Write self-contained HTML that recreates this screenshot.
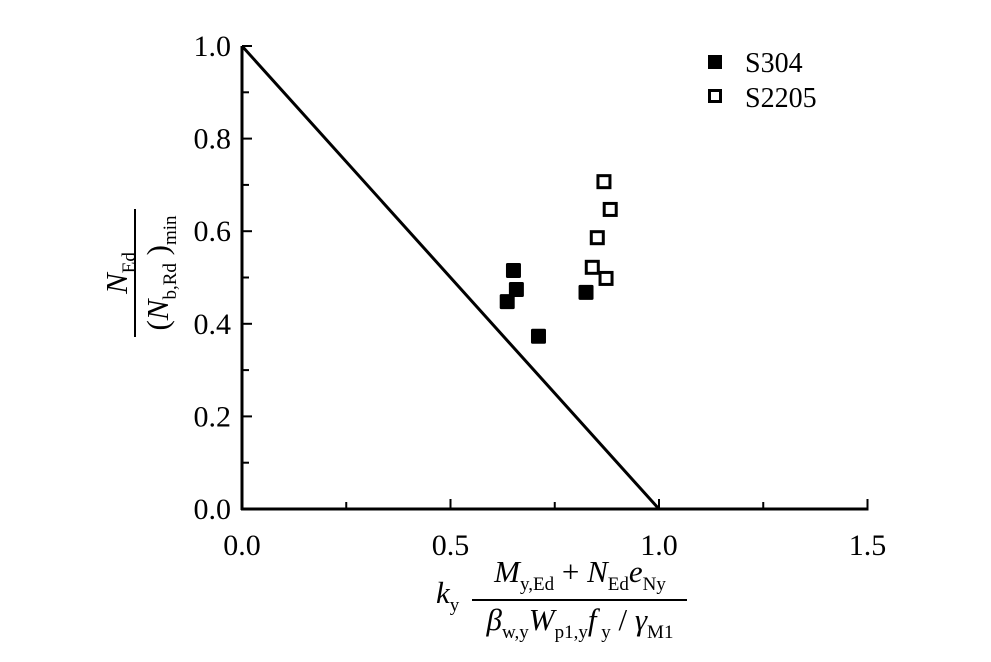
<!DOCTYPE html>
<html><head><meta charset="utf-8"><style>
body{margin:0;background:#fff}
svg{display:block;font-family:"Liberation Serif",serif}
</style></head><body>
<svg id="chart" width="991" height="662" viewBox="0 0 991 662">
<g id="axes"></g>
<g id="marks"></g>
<g>
<rect x="708" y="55" width="14" height="14" fill="#000"/>
<text x="745" y="72" font-size="28">S304</text>
<rect x="709.5" y="90.5" width="11" height="11" fill="#fff" stroke="#000" stroke-width="3"/>
<text x="745" y="107" font-size="28">S2205</text>
</g>
<g transform="translate(135,273) rotate(-90)" font-size="31">
<text x="0" y="-8" text-anchor="middle"><tspan font-style="italic">N</tspan><tspan font-size="19" dy="8">Ed</tspan></text>
<line x1="-64" y1="0" x2="64" y2="0" stroke="#000" stroke-width="2"/>
<text x="0" y="33" text-anchor="middle">(<tspan font-style="italic">N</tspan><tspan font-size="19" dy="8">b,Rd</tspan><tspan dy="-8"> )</tspan><tspan font-size="19" dy="8">min</tspan></text>
</g>
<g font-size="31">
<text x="436" y="603" font-style="italic">k<tspan font-size="19" font-style="normal" dy="8">y</tspan></text>
<text x="580" y="582" text-anchor="middle"><tspan font-style="italic">M</tspan><tspan font-size="19" dy="8">y,Ed</tspan><tspan dy="-8"> + </tspan><tspan font-style="italic">N</tspan><tspan font-size="19" dy="8">Ed</tspan><tspan font-style="italic" dy="-8">e</tspan><tspan font-size="19" dy="8">Ny</tspan></text>
<line x1="472" y1="600" x2="687" y2="600" stroke="#000" stroke-width="2"/>
<text x="580" y="630" text-anchor="middle"><tspan font-style="italic">β</tspan><tspan font-size="19" dy="8">w,y</tspan><tspan font-style="italic" dy="-8">W</tspan><tspan font-size="19" dy="8">p1,y</tspan><tspan font-style="italic" dy="-8">f</tspan><tspan font-size="19" dy="8"> y</tspan><tspan dy="-8"> / </tspan><tspan font-style="italic">γ</tspan><tspan font-size="19" dy="8">M1</tspan></text>
</g>
</svg>
<script>
const s304X=[0.636,0.651,0.658,0.711,0.825];
const s304Y=[0.448,0.515,0.474,0.373,0.468];
const s2205X=[0.840,0.852,0.868,0.883,0.873];
const s2205Y=[0.522,0.586,0.707,0.647,0.498];
const xTicks=[0,0.5,1.0,1.5];
const xTickLabels=["0.0","0.5","1.0","1.5"];
const yTicks=[0,0.2,0.4,0.6,0.8,1.0];
const yTickLabels=["0.0","0.2","0.4","0.6","0.8","1.0"];
const limitX=[0,1];
const limitY=[1,0];
const NS="http://www.w3.org/2000/svg";
const X0=242,XS=(659-242),Y0=509,YS=(509-46);
function sx(v){return X0+v*XS;}
function sy(v){return Y0-v*YS;}
function mk(tag,attrs,parent){const e=document.createElementNS(NS,tag);for(const k in attrs)e.setAttribute(k,attrs[k]);parent.appendChild(e);return e;}
const axes=document.getElementById('axes'),marks=document.getElementById('marks');
let e=mk('line',{x1:sx(0),y1:sy(0)+1,x2:sx(0),y2:sy(1),stroke:'#000','stroke-width':3},axes);


e=mk('line',{x1:sx(0)-1,y1:sy(0),x2:sx(1.5)+1,y2:sy(0),stroke:'#000','stroke-width':3},axes);


for(let i=0;i<=6;i++){const v=i*0.25;const major=i%2==0;
e=mk('line',{x1:sx(v),y1:sy(0),x2:sx(v),y2:sy(0)-(major?10:7),stroke:'#000','stroke-width':2},axes);

}
for(let i=0;i<=10;i++){const v=i*0.1;const major=i%2==0;
e=mk('line',{x1:sx(0),y1:sy(v),x2:sx(0)+(major?10:7),y2:sy(v),stroke:'#000','stroke-width':2},axes);

}
xTicks.forEach((v,i)=>{e=mk('text',{x:sx(v),y:555,'font-size':30,'text-anchor':'middle'},axes);e.textContent=xTickLabels[i];

});
yTicks.forEach((v,i)=>{e=mk('text',{x:231,y:sy(v)+10,'font-size':30,'text-anchor':'end'},axes);e.textContent=yTickLabels[i];

});
e=mk('line',{x1:sx(limitX[0]),y1:sy(limitY[0]),x2:sx(limitX[1]),y2:sy(limitY[1]),stroke:'#000','stroke-width':3},marks);


s304X.forEach((v,i)=>{e=mk('rect',{x:sx(v)-7.5,y:sy(s304Y[i])-7.5,width:15,height:15,rx:1.5,fill:'#000'},marks);

});
s2205X.forEach((v,i)=>{e=mk('rect',{x:sx(v)-6,y:sy(s2205Y[i])-6,width:12,height:12,fill:'#fff',stroke:'#000','stroke-width':3},marks);

});
</script>
</body></html>
